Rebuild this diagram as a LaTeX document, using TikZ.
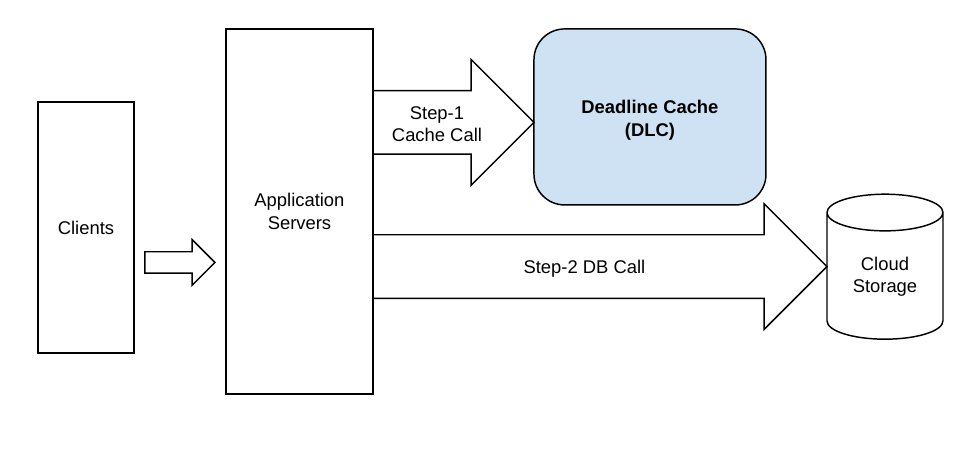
\documentclass[tikz,border=0pt]{standalone}
\usepackage{xcolor}
\usepackage{fontspec}
\setmainfont{Liberation Sans}
\usetikzlibrary{positioning, shapes.geometric, shapes.arrows}

\definecolor{cacheblue}{HTML}{CFE2F3}

\tikzset{
	boxnode/.style={draw, line width=1.1pt, outer sep=0pt, align=center, font=\fontsize{13.8}{17}\selectfont},
	blockarrow/.style={draw, line width=1.1pt, outer sep=0pt, inner xsep=0pt, shape=single arrow, shape border rotate=0, single arrow tip angle=90, anchor=tail},
	arrowtext/.style={align=center, font=\fontsize{13.8}{16.5}\selectfont}
}

\begin{document}
\begin{tikzpicture}

		\useasboundingbox (0,0) rectangle (716.25pt,-342pt);

		\node[boxnode, minimum width=110.25pt, minimum height=273.75pt] (servers) at (224.6pt,-158.6pt) {Application\\Servers};
		\node[boxnode, minimum width=72pt, minimum height=188.25pt, left=69pt of servers, yshift=-12pt] (clients) {Clients};
		\node[boxnode, rounded corners=23pt, fill=cacheblue, minimum width=174pt, minimum height=132pt, right=120.75pt of servers, yshift=70.9pt] (dlc) {};
		\node[boxnode, cylinder, shape border rotate=90, aspect=0.5, minimum width=87pt, minimum height=108.75pt, right=340.5pt of servers, yshift=-51.2pt, font=\fontsize{13.8}{16.5}\selectfont] (storage) {Cloud\\Storage\\[-9pt]};

		\node[blockarrow, inner ysep=7.5pt, minimum height=52.5pt, single arrow head extend=9.1pt] (toservers) at ([xshift=8.25pt,yshift=-26.25pt]clients.east) {};
		\node[blockarrow, inner ysep=23.3pt, minimum height=120.75pt, single arrow head extend=23.3pt] (tocache) at ([yshift=66.8pt]servers.east) {};
		\node[blockarrow, inner ysep=23.3pt, minimum height=340.5pt, single arrow head extend=23.3pt] (todb) at ([yshift=-41.3pt]servers.east) {};

		\node[arrowtext] (cachetext) at ([xshift=48pt,yshift=-1pt]tocache.tail) {Step-1\\Cache Call};
		\node[arrowtext] (dbtext) at ([xshift=158.6pt,yshift=-1.5pt]todb.tail) {Step-2 DB Call};
		\node[arrowtext, font=\fontsize{13.8}{17.5}\selectfont] (dlctext) at ([yshift=-2.6pt]dlc.center) {\textbf{Deadline Cache}\\\textbf{(DLC)}};

\end{tikzpicture}
\end{document}
